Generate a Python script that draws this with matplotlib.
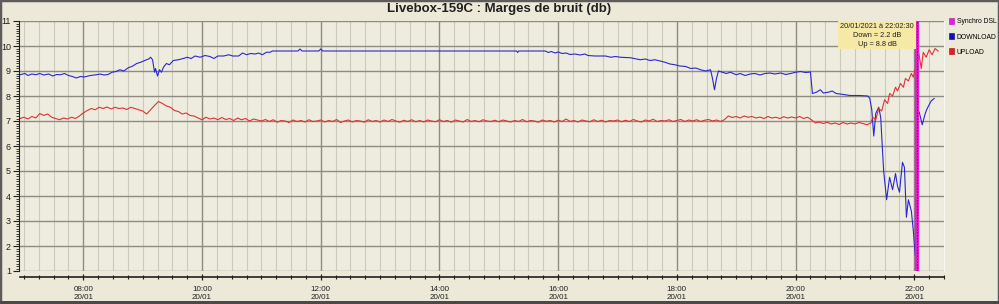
import matplotlib
matplotlib.use("Agg")
import matplotlib.pyplot as plt
import matplotlib.dates as mdates
from matplotlib.patches import Patch, Rectangle
from matplotlib.ticker import MultipleLocator
import pandas as pd

plt.rcParams['font.family'] = ['Liberation Sans', 'DejaVu Sans']

DAY = "2021-01-20 "
BG = "#ECE9D8"

# DOWNLOAD noise margin (dB)
down_times = ["06:56", "07:01", "07:04", "07:08", "07:12", "07:16", "07:20", "07:25", "07:29", "07:33",
              "07:37", "07:41", "07:45", "07:49", "07:53", "07:57", "08:01", "08:07", "08:13", "08:17",
              "08:21", "08:25", "08:29", "08:33", "08:37", "08:41", "08:45", "08:50", "08:54", "08:58",
              "09:02", "09:06", "09:08", "09:10", "09:11", "09:12", "09:13", "09:15", "09:17", "09:19",
              "09:21", "09:24", "09:27", "09:31", "09:36", "09:41", "09:45", "09:49", "09:53", "09:58",
              "10:03", "10:08", "10:12", "10:16", "10:22", "10:27", "10:31", "10:37", "10:41", "10:45",
              "10:49", "10:54", "10:57", "11:01", "11:05", "11:09", "11:11", "11:37", "11:39", "11:41",
              "11:58", "12:00", "12:02", "15:18", "15:19", "15:20", "15:47", "15:50", "15:53", "15:57",
              "16:00", "16:04", "16:08", "16:12", "16:17", "16:22", "16:27", "16:30", "16:37", "16:48",
              "16:53", "16:58", "17:03", "17:13", "17:23", "17:28", "17:33", "17:38", "17:43", "17:48",
              "17:53", "17:58", "18:03", "18:09", "18:14", "18:19", "18:24", "18:29", "18:34", "18:36",
              "18:38", "18:40", "18:42", "18:46", "18:50", "18:54", "19:00", "19:04", "19:09", "19:14",
              "19:19", "19:24", "19:29", "19:34", "19:39", "19:45", "19:50", "19:55", "20:00", "20:05",
              "20:10", "20:15", "20:17", "20:21", "20:25", "20:28", "20:33", "20:37", "20:41", "20:45",
              "20:50", "20:55", "21:05", "21:13", "21:15", "21:17", "21:19", "21:21", "21:24", "21:26",
              "21:29", "21:32", "21:35", "21:38", "21:41", "21:43", "21:45", "21:48", "21:50", "21:52",
              "21:54", "21:57", "21:59", "22:01", "22:02:30", "22:04", "22:05", "22:08", "22:11", "22:13",
              "22:17", "22:20"]
down_values = [8.85, 8.9, 8.82, 8.88, 8.85, 8.9, 8.84, 8.88, 8.8, 8.86,
               8.85, 8.9, 8.82, 8.78, 8.72, 8.78, 8.76, 8.82, 8.85, 8.88,
               8.84, 8.86, 8.95, 8.98, 9.05, 9.0, 9.12, 9.2, 9.3, 9.35,
               9.42, 9.48, 9.55, 9.45, 9.2, 8.95, 9.1, 8.8, 9.05, 8.95,
               9.15, 9.3, 9.25, 9.42, 9.45, 9.5, 9.55, 9.5, 9.6, 9.55,
               9.62, 9.58, 9.5, 9.6, 9.6, 9.65, 9.6, 9.6, 9.72, 9.65,
               9.7, 9.68, 9.72, 9.65, 9.75, 9.75, 9.8, 9.8, 9.88, 9.8,
               9.8, 9.88, 9.8, 9.8, 9.74, 9.8, 9.8, 9.74, 9.78, 9.72,
               9.76, 9.7, 9.72, 9.66, 9.68, 9.64, 9.68, 9.62, 9.6, 9.6,
               9.55, 9.58, 9.55, 9.53, 9.45, 9.48, 9.42, 9.45, 9.4, 9.35,
               9.28, 9.25, 9.2, 9.18, 9.1, 9.12, 9.05, 9.0, 9.05, 8.7,
               8.25, 8.7, 9.0, 8.95, 8.9, 8.95, 8.85, 8.9, 8.82, 8.88,
               8.9, 8.84, 8.9, 8.92, 8.88, 8.92, 8.86, 8.9, 8.95, 8.98,
               8.94, 8.96, 8.1, 8.15, 8.25, 8.12, 8.15, 8.2, 8.1, 8.08,
               8.05, 8.02, 8.02, 8.0, 7.9, 7.45, 6.4, 7.3, 7.55, 7.15,
               5.0, 3.85, 4.75, 4.25, 4.9, 4.4, 4.15, 5.35, 5.15, 3.15,
               3.85, 3.4, 2.6, 1.6, 2.2, 7.4, 7.35, 6.85, 7.3, 7.5,
               7.8, 7.9]

# UPLOAD noise margin (dB): one reading every 4 min from 07:00 to 21:16
up_first_time = "06:56"
up_first_value = 7.10
up_grid_start = "07:00"
up_grid_values = [
    7.15, 7.08, 7.18, 7.12, 7.3, 7.22, 7.28, 7.15, 7.1, 7.05, 7.12, 7.08, 7.15, 7.1, 7.2,        # 07h
    7.32, 7.42, 7.5, 7.45, 7.55, 7.5, 7.56, 7.48, 7.55, 7.5, 7.52, 7.46, 7.55, 7.5, 7.45,       # 08h
    7.4, 7.28, 7.45, 7.62, 7.78, 7.7, 7.6, 7.55, 7.42, 7.38, 7.28, 7.32, 7.22, 7.2, 7.12,       # 09h
    7.05, 7.15, 7.08, 7.12, 7.05, 7.14, 7.06, 7.1, 7.02, 7.12, 7.05, 7.1, 7.0, 7.08, 7.04,      # 10h
    7.0, 7.06, 6.98, 7.05, 6.95, 7.02, 7.0, 6.94, 7.04, 6.98, 7.02, 6.96, 7.05, 6.98, 7.0,      # 11h
    7.04, 6.96, 7.02, 6.98, 7.06, 6.94, 7.0, 7.04, 6.96, 7.02, 7.0, 6.95, 7.05, 6.98, 7.02,     # 12h
    6.96, 7.04, 6.98, 7.06, 7.0, 6.95, 7.03, 6.98, 7.05, 6.97, 7.02, 6.96, 7.04, 7.0, 6.97,     # 13h
    7.05, 6.98, 7.02, 6.95, 7.04, 7.0, 6.96, 7.06, 6.98, 7.02, 6.97, 7.05, 7.0, 6.98, 7.03,     # 14h
    6.97, 7.04, 7.0, 6.96, 7.02, 6.98, 7.06, 6.97, 7.02, 7.0, 6.95, 7.04, 6.99, 7.02, 6.96,     # 15h
    7.03, 6.98, 7.08, 6.98, 7.02, 6.96, 7.04, 7.0, 6.97, 7.05, 6.98, 7.03, 6.96, 7.02, 7.0,     # 16h
    7.04, 6.97, 7.03, 6.98, 7.06, 7.0, 6.96, 7.04, 7.0, 7.07, 6.98, 7.02, 7.0, 7.05, 6.98,      # 17h
    7.02, 7.06, 6.98, 7.04, 7.0, 7.05, 6.98, 7.03, 7.06, 7.0, 7.04, 6.98, 7.05, 7.2, 7.14,      # 18h
    7.18, 7.12, 7.2, 7.15, 7.18, 7.12, 7.16, 7.1, 7.18, 7.12, 7.15, 7.1, 7.17, 7.12, 7.16,      # 19h
    7.12, 7.18, 7.1, 7.15, 7.05, 6.92, 6.96, 6.9, 6.95, 6.88, 6.92, 6.86, 6.94, 6.88, 6.92,     # 20h
    6.88, 6.94, 6.9, 6.85, 6.92,                                                                # 21h
]
up_tail_times = ["21:18", "21:21", "21:24", "21:27", "21:30", "21:33", "21:35", "21:38", "21:41",
                 "21:43", "21:46", "21:49", "21:51", "21:54", "21:57", "21:59", "22:01", "22:02:30",
                 "22:03", "22:05", "22:07", "22:09", "22:12", "22:15", "22:18", "22:21", "22:24"]
up_tail_values = [7.15, 7.05, 7.5, 7.4, 7.85, 7.7, 8.1, 8.0, 8.35,
                  8.2, 8.5, 8.35, 8.7, 8.6, 8.9, 8.75, 9.1, 8.8,
                  10.05, 9.6, 9.1, 9.75, 9.55, 9.85, 9.65, 9.9, 9.8]

sync_time = "22:02:30"
sync_down = 2.2
sync_up = 8.8

x_start, x_end = "06:56", "22:30"


def ts(t):
    return pd.Timestamp(DAY + t)


down_x = [ts(t) for t in down_times]
up_x = ([ts(up_first_time)]
        + list(pd.date_range(ts(up_grid_start), periods=len(up_grid_values), freq="4min"))
        + [ts(t) for t in up_tail_times])
up_y = [up_first_value] + up_grid_values + up_tail_values

fig = plt.figure(figsize=(9.99, 3.04), dpi=100, facecolor=BG)
ax = fig.add_axes([20 / 999, 33 / 304, 924 / 999, 250 / 304])
ax.set_facecolor("#EEECDF")

ax.plot(down_x, down_values, color="#2828D0", lw=0.8, zorder=2)
ax.plot(up_x, up_y, color="#E03232", lw=0.8, zorder=2)

# synchro DSL marker
sx = ts(sync_time)
ax.axvline(sx, color="#E020C8", lw=3.2, zorder=3)
ax.axvline(sx, color="#303030", lw=0.7, ls=(0, (1.5, 1.5)), zorder=4)
ax.annotate("%s à %s\nDown = %.1f dB\nUp = %.1f dB" % ("20/01/2021", sync_time, sync_down, sync_up),
            xy=(sx, 11), xytext=(-2, -1.5), textcoords="offset points",
            ha="right", va="top", multialignment="center", fontsize=5.3, color="#202020",
            linespacing=1.35, zorder=5,
            bbox=dict(boxstyle="square,pad=0.25", fc="#F6E9A6", ec="none"))

ax.set_xlim(ts(x_start), ts(x_end))
ax.set_ylim(1, 11)

ax.xaxis.set_major_locator(mdates.HourLocator(byhour=range(8, 23, 2)))
ax.xaxis.set_minor_locator(mdates.MinuteLocator(byminute=[0, 15, 30, 45]))
ax.xaxis.set_major_formatter(mdates.DateFormatter("%H:%M\n%d/%m"))
ax.set_yticks(range(1, 12))
ax.yaxis.set_minor_locator(MultipleLocator(0.1))

ax.set_axisbelow(True)
ax.grid(which="minor", axis="x", color="#CCCABB", lw=0.8)
ax.grid(which="major", axis="x", color="#8E8C80", lw=1.0)
ax.grid(which="major", axis="y", color="#8E8C82", lw=1.0)

ax.tick_params(axis="x", which="major", direction="inout", length=5, width=0.9,
               labelsize=5.8, pad=4, colors="#202020")
ax.tick_params(axis="x", which="minor", direction="inout", length=3, width=0.8, colors="#202020")
ax.tick_params(axis="y", which="major", direction="out", length=4, width=0.8,
               labelsize=6.5, pad=1.5, colors="#202020")
ax.tick_params(axis="y", which="minor", direction="out", length=2, width=0.6, colors="#202020")
for lbl in ax.get_xticklabels():
    lbl.set_linespacing(1.5)

ax.spines["top"].set_visible(False)
ax.spines["right"].set_color("#F8F8F2")
ax.spines["left"].set_position(("outward", 1))
ax.spines["left"].set_color("#202020")
ax.spines["bottom"].set_position(("outward", 4))
ax.spines["bottom"].set_color("#202020")
ax.spines["bottom"].set_linewidth(1.2)

fig.text(0.5, 1 - 9 / 304, "Livebox-159C : Marges de bruit (db)", ha="center", va="center",
         fontsize=9.5, fontweight="bold", color="#202020")

handles = [Patch(fc="#E020E0", ec="#B010B0", lw=0.4, label="Synchro DSL"),
           Patch(fc="#1010C0", ec="#08087A", lw=0.4, label="DOWNLOAD"),
           Patch(fc="#E02020", ec="#A01010", lw=0.4, label="UPLOAD")]
fig.legend(handles=handles, loc="upper left", bbox_to_anchor=(949 / 999, 1 - 18 / 304),
           fontsize=4.9, frameon=False, handlelength=0.8, handleheight=1.0,
           handletextpad=0.35, labelspacing=1.15, borderpad=0, borderaxespad=0)

fig.patches.append(Rectangle((0, 0), 1, 1, transform=fig.transFigure, fill=False,
                             ec="#5C5C5C", lw=2.5))
fig.patches.append(Rectangle((0, 0), 1, 3 / 304, transform=fig.transFigure,
                             fc="#4A4A4A", ec="none"))

fig.savefig("out.png", dpi=100, facecolor=BG)
